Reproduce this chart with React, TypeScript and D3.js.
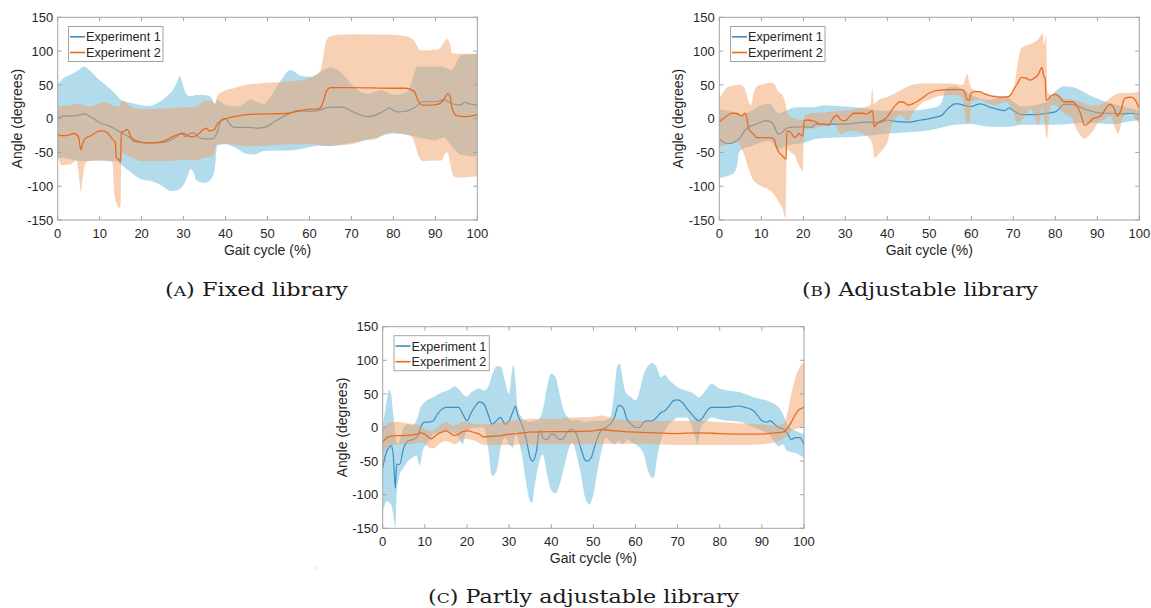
import React from "react";
import * as d3 from "d3";

type Pt = [number, number];

// ---------- tick labels & text ----------
const xTickValues = [0, 10, 20, 30, 40, 50, 60, 70, 80, 90, 100];
const yTickValues = [-150, -100, -50, 0, 50, 100, 150];
const seriesNames = ["Experiment 1", "Experiment 2"];
const captionLetters = ["A", "B", "C"];
const captionTexts = ["Fixed library", "Adjustable library", "Partly adjustable library"];
const xTitle = "Gait cycle (%)";
const yTitle = "Angle (degrees)";

// ---------- Panel A: Fixed library ----------
const aBlueMean: Pt[] = [[0,1],[2,4],[4,4],[5,5],[6.3,7],[8,2],[10,-6],[12,-10],[15,-20],[17,-27],[20,-35],[23,-36],[26,-34],[28,-28],[29.5,-21],[30.5,-27],[31.5,-22],[32.5,-21],[33.5,-27],[35,-30],[37,-30],[38,-20],[39,-2],[40,0],[41,-8],[42,-13],[45,-13],[48,-14],[50,-11],[52,-3],[55,7],[57,12],[60,11],[62,12],[65,17],[68,17],[70,11],[72,6],[74,3],[76,6],[78,12],[79,16],[80,12],[81,10],[83,11],[85,16],[87,25],[90,25],[92,28],[94,22],[96,20],[97,24],[98,22],[100,20]];
const aBlueUp: Pt[] = [[0,50],[1,58],[3,65],[5,72],[6.3,77],[7.5,72],[10,57],[12,47],[14,35],[15,28],[17,24],[20,20],[22,19],[24,24],[26,33],[27.5,43],[28.5,55],[29,63],[29.6,55],[30.5,38],[31.5,33],[33,35],[35,35],[36.5,32],[37.5,22],[38,28],[40,20],[43,18],[46,28],[49,22],[51,35],[53,55],[55.5,72],[57.8,64],[60.2,62],[62.6,69],[65,76],[67.4,69],[70.6,47],[73.8,37],[77,42],[80.2,35],[83.4,40],[85.8,77],[88.2,77],[91.4,77],[93.8,72],[96.2,94],[100,96]];
const aBlueLo: Pt[] = [[0,-58],[3,-60],[6,-63],[10,-62],[14,-63],[15.5,-70],[17,-77],[20,-90],[22,-92],[25,-100],[27,-107],[28.5,-106],[30,-98],[31,-85],[31.6,-75],[32.4,-80],[33,-91],[35,-95],[36.5,-90],[37.5,-72],[38,-40],[40,-38],[42,-42],[45,-52],[47,-53],[49,-48],[52,-47],[55,-47],[58,-45],[60,-42],[62,-40],[65,-41],[68,-38],[72,-34],[76,-28],[80,-22],[84,-25],[86,-28],[88,-30],[90,-32],[92,-28],[94,-42],[96,-53],[100,-56]];
const aOrMean: Pt[] = [[0,-22],[0.5,-25],[2,-25],[4,-22],[5,-28],[5.5,-46],[6,-36],[6.5,-30],[8,-25],[10,-18],[11,-18],[12,-22],[13,-30],[13.7,-35],[14,-58],[14.5,-60],[15,-64],[15.15,-20],[16,-18],[16.5,-16],[17,-20],[17.5,-28],[18,-33],[20,-35],[22,-36],[25,-34],[28,-25],[30,-22],[31,-25],[32,-27],[33,-25],[35,-15],[35.5,-14],[36,-18],[37,-17],[37.5,-15],[38,-8],[39,-3],[40,0],[42,3],[45,6],[50,7],[55,8],[58,12],[60,14],[62,14],[63,20],[64,40],[65,46],[70,46],[80,45],[83,45],[85,40],[86,25],[87,20],[89,20],[90.5,21],[92,28],[93,37],[93.5,33],[94,15],[95,5],[97,3],[100,6]];
const aOrUp: Pt[] = [[0,19],[3,20],[5,22],[7,18],[9,20],[11,25],[13,20],[14.9,18],[15.1,26],[16,25],[17,20],[18,16],[20,14],[25,15],[30,17],[33,18],[35,26],[36.5,27],[37.5,22],[38,33],[40,42],[42,45],[45,50],[50,53],[55,55],[58,57],[60,60],[62,66],[63,80],[63.5,100],[64,115],[65,122],[67,124],[70,125],[80,124],[83,122],[85,115],[86,104],[87,101],[90,102],[91,104],[92,112],[92.8,118],[93.5,110],[94,97],[95,96],[100,96]];
const aOrLo: Pt[] = [[0,-56],[1,-69],[3,-68],[4.5,-62],[5,-80],[5.5,-108],[6,-85],[6.5,-68],[7,-63],[10,-62],[13,-64],[13.5,-110],[14,-125],[14.5,-132],[15,-130],[15.2,-50],[17,-56],[20,-63],[25,-63],[28,-62],[30,-60],[32,-62],[35,-58],[37,-55],[38,-37],[40,-37],[45,-41],[50,-40],[55,-38],[60,-38],[65,-40],[70,-38],[73,-32],[76,-30],[78,-22],[80,-20],[82,-22],[84,-25],[85,-35],[86,-55],[87,-63],[90,-62],[91.5,-62],[92.3,-52],[93,-50],[93.5,-65],[94.2,-83],[95,-87],[97,-87],[100,-85]];

// ---------- Panel B: Adjustable library ----------
const bBlueMean: Pt[] = [[0,-30],[1,-35],[2,-37],[3,-36],[4,-33],[5,-28],[6,-18],[7,-12],[8,-10],[10,-5],[11,-3],[12,-4],[13,-10],[14,-23],[15,-20],[16,-14],[17,-13],[20,-12],[22,-13],[23,-8],[25,-8],[30,-8],[35,-5],[38,-6],[40,-2],[42,-4],[45,-5],[48,-2],[50,0],[52,3],[53,5],[54,12],[55,18],[56,22],[57,22],[58,20],[60,18],[61,20],[62,22],[63,21],[64,18],[65,16],[66,14],[68,12],[69,16],[70,12],[71,8],[72,6],[75,6],[78,8],[80,10],[81,15],[82,21],[84,21],[86,17],[88,12],[90,9],[92,8],[94,8],[96,7],[98,8],[100,6]];
const bBlueUp: Pt[] = [[0,13],[3,10],[5,5],[7,10],[10,20],[12,22],[14,8],[16,12],[18,17],[22,17],[25,20],[30,18],[35,15],[38,12],[40,12],[45,12],[50,15],[52,18],[53,25],[54,45],[56,48],[58,43],[60,35],[62,30],[64,28],[66,30],[68,33],[70,25],[72,18],[75,20],[78,25],[80,40],[82,48],[84,47],[86,42],[88,35],[90,30],[92,25],[95,20],[98,15],[100,12]];
const bBlueLo: Pt[] = [[0,-88],[2,-85],[3.5,-80],[4.2,-70],[4.7,-50],[5.5,-45],[8,-40],[10,-35],[12,-33],[14,-45],[16,-40],[18,-38],[20,-36],[23,-30],[28,-28],[32,-27],[36,-25],[40,-22],[45,-20],[50,-17],[53,-13],[56,-9],[60,-8],[64,-12],[66,-12],[69,-12],[72,-9],[80,-9],[88,-6],[94,-8],[97,-5],[100,-2]];
const bOrMean: Pt[] = [[0,-5],[1,0],[2,5],[3,8],[4,8],[5,5],[5.5,4],[6,8],[6.5,3],[7,-15],[8,-22],[9,-28],[10,-28],[12,-28],[13,-30],[13.5,-40],[14,-48],[15,-55],[15.9,-60],[16.1,-18],[17,-20],[17.5,-25],[18,-28],[19,-22],[19.9,-26],[20.2,-3],[21,-2],[22,-3],[23,-5],[24,-8],[25,-8],[26,-10],[27,0],[28,5],[29,-2],[30,-3],[31,3],[32,8],[33,8],[34,8],[35,7],[36,10],[36.5,12],[36.9,-12],[37.5,-8],[38,-5],[39,-2],[40,3],[41,12],[42,20],[43,25],[44,24],[45,20],[46,22],[47,25],[48,29],[50,38],[52,42],[55,43],[58,43],[58.5,38],[59,28],[59.5,27],[60,38],[61,40],[62,40],[63,37],[64,35],[65,33],[67,32],[68,32],[69,33],[70,42],[71,52],[72,61],[73,60],[74,57],[75,60],[76,66],[76.8,76],[77.3,62],[77.6,60],[77.8,27],[78.5,30],[79,34],[80,36],[81,32],[82,25],[84,25],[85,20],[86,8],[87,-10],[88,-6],[89,0],[90,2],[91,5],[92,15],[93,21],[94,15],[94.7,4],[95.5,10],[96.5,30],[98,32],[99,28],[100,15]];
const bOrUp: Pt[] = [[0,30],[1,40],[2,47],[5,50],[6,45],[7,25],[7.5,20],[8.2,38],[9,48],[10,50],[12,53],[13,52],[14,40],[15,35],[15.5,28],[16.5,5],[18,0],[20,-2],[20.3,5],[22,8],[26,10],[30,12],[33,15],[36,20],[36.4,45],[36.8,22],[38,28],[40,32],[42,38],[46,50],[48,52],[55,52],[58,50],[58.5,58],[59,66],[59.5,55],[60,45],[62,40],[65,35],[68,33],[70,40],[71,80],[72,105],[74,110],[76,118],[77,126],[77.4,110],[77.8,125],[78.1,40],[79,35],[80,38],[82,30],[84,28],[86,25],[88,20],[90,20],[92,25],[94,35],[96,38],[98,38],[100,40]];
const bOrLo: Pt[] = [[0,-42],[2,-38],[4,-35],[5,-40],[6,-55],[7,-75],[8,-90],[9,-96],[10,-100],[12,-106],[13,-112],[14,-122],[15,-132],[15.8,-147],[16.1,-45],[17,-50],[18,-55],[19,-70],[19.9,-78],[20.2,-15],[22,-15],[24,-12],[26,-10],[27,-5],[28,-15],[29,-23],[30,-20],[32,-18],[34,-22],[36,-31],[36.5,-40],[37,-58],[38,-52],[39,-45],[40,-35],[41,-10],[42,0],[43,5],[44,0],[45,-3],[46,8],[47,15],[48,22],[50,28],[54,35],[56,35],[58,30],[58.5,5],[59,-7],[59.6,-5],[60,25],[62,28],[64,22],[66,20],[68,25],[70,10],[71,-7],[72,-2],[73,5],[74,15],[75,5],[76,-10],[77,15],[77.5,-10],[78,-30],[78.5,0],[79,20],[80,20],[81,15],[82,8],[83,5],[84,0],[85,-15],[86,-25],[87,-30],[88,-25],[89,-18],[90,-8],[92,0],[93,5],[94,-10],[95,-22],[96,0],[98,10],[99,0],[100,-8]];

// ---------- Panel C: Partly adjustable library ----------
const cBlueMean: Pt[] = [[0,-60],[0.5,-45],[1,-35],[1.5,-30],[2,-27],[2.5,-40],[3,-90],[3.3,-55],[4,-55],[5,-30],[6,-20],[7,-18],[8,-15],[8.5,-10],[9,0],[10,8],[11,8],[12,10],[13,20],[14,27],[15,30],[17,30],[18,30],[19,20],[20,10],[21,22],[22,32],[23,38],[24,35],[25,20],[26,5],[27,10],[28,15],[29,5],[30,10],[31,25],[31.5,32],[32,20],[33,5],[34,-15],[35,-45],[35.5,-50],[36.5,-35],[37,-10],[37.5,-5],[38,-15],[39,-18],[40,-10],[41,-12],[42,-18],[43,-15],[44,-5],[45,-3],[46,-10],[47,-30],[48,-48],[48.5,-50],[49.5,-45],[50,-35],[51,-15],[52,-3],[53,0],[54,5],[55,15],[56,33],[57,30],[58,12],[59,5],[60,0],[61,0],[62,8],[63,10],[64,10],[65,15],[66,22],[67,25],[68,32],[69,40],[70,41],[71,38],[72,30],[73,22],[74,15],[75,10],[76,15],[77,25],[78,30],[80,30],[82,30],[84,32],[86,30],[88,25],[89,18],[90,10],[91,8],[92,10],[93,5],[94,0],[95,-2],[96,-8],[97,-18],[98,-15],[99,-15],[100,-25]];
const cBlueUp: Pt[] = [[0,0],[0.7,30],[1.5,56],[2,50],[2.5,20],[3,-10],[3.5,-25],[4,-20],[5,0],[6,5],[7,3],[8,10],[9,30],[10,38],[12,45],[14,52],[16,57],[17,61],[18,58],[19,50],[20,46],[21,52],[22,56],[23,58],[24,55],[25,60],[26,78],[27,91],[28,91],[29,70],[30,50],[30.5,75],[31,93],[31.5,70],[32,30],[33,15],[34,10],[35,8],[36,10],[37,12],[38,26],[39,60],[40,80],[41,75],[42,50],[43,25],[44,15],[45,10],[46,12],[48,8],[50,10],[52,10],[54,15],[55,55],[55.7,92],[56.3,95],[57,70],[57.5,55],[58,50],[59,45],[60,40],[61,55],[62,80],[63,92],[64,96],[65,90],[66,75],[67,78],[68,70],[69,65],[70,60],[72,55],[74,50],[75,45],[76,50],[77,58],[78,65],[79,62],[80,58],[82,55],[85,52],[88,45],[90,42],[92,38],[94,30],[95,20],[96,5],[98,-5],[100,-10]];
const cBlueLo: Pt[] = [[0,-125],[1,-110],[2,-115],[2.5,-130],[3,-150],[3.3,-100],[4,-70],[5,-60],[6,-50],[7,-45],[8,-42],[8.8,-56],[9.5,-35],[10,-28],[11,-20],[12,-10],[13,-8],[15,-5],[17,-8],[18,-15],[19,-25],[19.6,-10],[20,-5],[22,0],[24,0],[25,-30],[26,-72],[27,-65],[28,-30],[29,-15],[30,-25],[31,-30],[31.5,-5],[32,-15],[33,-40],[34,-80],[35,-110],[35.5,-112],[36,-90],[37,-55],[38,-40],[39,-70],[40,-93],[41,-98],[42,-85],[43,-60],[44,-35],[45,-22],[46,-40],[47,-68],[48,-103],[49,-114],[50,-100],[51,-63],[52,-33],[53,-15],[54,-20],[55,-25],[56,-20],[57,-25],[58,-18],[59,-22],[60,-25],[61,-30],[62,-40],[63,-65],[64,-75],[64.5,-72],[65,-50],[66,-20],[67,-5],[68,5],[69,10],[70,15],[72,15],[73,8],[74,-10],[74.8,-25],[75.5,0],[77,10],[78,15],[80,12],[82,10],[85,8],[88,0],[90,-5],[92,-12],[93,-22],[94,-28],[95,-25],[96,-35],[98,-38],[100,-45]];
const cOrMean: Pt[] = [[0,-22],[1,-15],[2,-13],[3,-12],[5,-12],[7,-11],[8,-10],[9,-8],[10,-10],[11,-15],[11.5,-17],[12,-15],[13,-10],[14,-7],[15,-5],[16,-8],[17,-12],[18,-10],[19,-6],[20,-5],[22,-8],[23,-10],[24,-14],[26,-13],[28,-12],[30,-10],[32,-9],[35,-7],[40,-6],[45,-6],[50,-5],[52,-3],[55,-5],[60,-7],[65,-8],[70,-9],[75,-8],[80,-9],[85,-10],[90,-10],[93,-8],[95,-7],[96,-2],[97,8],[98,20],[99,27],[100,30]];
const cOrUp: Pt[] = [[0,0],[1,5],[2,8],[4,8],[6,6],[8,5],[9,2],[10,-2],[11,-5],[12,-5],[13,0],[14,5],[15,8],[16,5],[17,3],[18,5],[19,8],[20,8],[22,5],[24,5],[25,5],[28,8],[30,10],[33,12],[36,13],[40,13],[45,15],[50,16],[52,18],[54,15],[56,12],[60,10],[65,10],[70,10],[75,10],[80,8],[85,6],[90,5],[93,3],[95,5],[96,20],[97,50],[98,75],[99,90],[100,97]];
const cOrLo: Pt[] = [[0,-40],[1,-30],[2,-26],[4,-25],[6,-25],[8,-23],[9,-22],[10,-25],[11,-30],[12,-31],[13,-27],[14,-22],[15,-20],[16,-22],[17,-25],[18,-22],[19,-17],[20,-17],[22,-20],[24,-26],[26,-26],[30,-26],[35,-25],[40,-25],[45,-25],[50,-24],[55,-24],[60,-24],[65,-25],[70,-26],[75,-26],[80,-26],[85,-26],[90,-25],[93,-22],[95,-17],[96,-12],[97,-6],[98,-2],[99,-1],[100,0]];

// ---------- styling ----------
const BLUE_LINE = "#3a8fc4";
const ORANGE_LINE = "#ea6a21";
const BLUE_FILL = "rgb(178,220,236)";
const ORANGE_FILL = "rgb(240,157,99)";
const ORANGE_OPACITY = 0.48;
const AXIS = "#a3a3a3";
const TEXT = "#262626";
const SANS = "'Liberation Sans', Arial, Helvetica, sans-serif";
const SERIF = "'DejaVu Serif', 'Liberation Serif', serif";

interface Series { mean: Pt[]; up: Pt[]; lo: Pt[]; }
interface PanelCfg {
  left: number; right: number; top: number; bottom: number;
  yTitleX: number;
  legend: { x: number; y: number; w: number; h: number };
  caption: { x1: number; x2: number; y: number };
  blue: Series; orange: Series;
}

const panels: PanelCfg[] = [
  {
    left: 57.7, right: 477.3, top: 17.3, bottom: 220, yTitleX: 21.5,
    legend: { x: 68.5, y: 26.5, w: 94.5, h: 35 },
    caption: { x1: 165, x2: 348, y: 296 },
    blue: { mean: aBlueMean, up: aBlueUp, lo: aBlueLo },
    orange: { mean: aOrMean, up: aOrUp, lo: aOrLo },
  },
  {
    left: 719.3, right: 1139.3, top: 17.3, bottom: 220, yTitleX: 682.5,
    legend: { x: 730.5, y: 26.5, w: 94.5, h: 35 },
    caption: { x1: 802, x2: 1038, y: 296 },
    blue: { mean: bBlueMean, up: bBlueUp, lo: bBlueLo },
    orange: { mean: bOrMean, up: bOrUp, lo: bOrLo },
  },
  {
    left: 382.7, right: 804, top: 326.7, bottom: 528.3, yTitleX: 346.5,
    legend: { x: 394, y: 335.7, w: 95.3, h: 35 },
    caption: { x1: 428, x2: 739, y: 603 },
    blue: { mean: cBlueMean, up: cBlueUp, lo: cBlueLo },
    orange: { mean: cOrMean, up: cOrUp, lo: cOrLo },
  },
];

function Panel({ cfg, idx }: { cfg: PanelCfg; idx: number }) {
  const x = d3.scaleLinear().domain([0, 100]).range([cfg.left, cfg.right]);
  const y = d3.scaleLinear().domain([-150, 150]).range([cfg.bottom, cfg.top]);
  const line = d3.line<Pt>().x((d) => x(d[0])).y((d) => y(d[1])).curve(d3.curveMonotoneX);
  const band = (up: Pt[], lo: Pt[]) => {
    const a = line(up) || "";
    const b = line(lo.slice().reverse()) || "";
    return a + "L" + b.slice(1) + "Z";
  };
  const clipId = `clip-${idx}`;
  const tl = 4;
  const { legend, caption } = cfg;
  const row1 = legend.y + 10.3;
  const row2 = legend.y + 26;
  return (
    <g>
      <defs>
        <clipPath id={clipId}>
          <rect x={cfg.left} y={cfg.top} width={cfg.right - cfg.left} height={cfg.bottom - cfg.top} />
        </clipPath>
      </defs>
      <rect x={cfg.left} y={cfg.top} width={cfg.right - cfg.left} height={cfg.bottom - cfg.top} fill="#fff" />
      <g clipPath={`url(#${clipId})`}>
        <path d={band(cfg.blue.up, cfg.blue.lo)} fill={BLUE_FILL} stroke="none" />
        <path d={line(cfg.blue.mean) || ""} fill="none" stroke={BLUE_LINE} strokeWidth={1.2} />
        <path d={band(cfg.orange.up, cfg.orange.lo)} fill={ORANGE_FILL} fillOpacity={ORANGE_OPACITY} stroke="none" />
        <path d={line(cfg.orange.mean) || ""} fill="none" stroke={ORANGE_LINE} strokeWidth={1.3} />
      </g>
      {/* box and ticks */}
      <rect x={cfg.left} y={cfg.top} width={cfg.right - cfg.left} height={cfg.bottom - cfg.top} fill="none" stroke={AXIS} strokeWidth={1} />
      {xTickValues.map((t) => (
        <g key={"x" + t}>
          <line x1={x(t)} x2={x(t)} y1={cfg.bottom} y2={cfg.bottom - tl} stroke={AXIS} />
          <line x1={x(t)} x2={x(t)} y1={cfg.top} y2={cfg.top + tl} stroke={AXIS} />
          <text x={x(t)} y={cfg.bottom + 18} textAnchor="middle" fontFamily={SANS} fontSize={13} fill={TEXT}>{t}</text>
        </g>
      ))}
      {yTickValues.map((t) => (
        <g key={"y" + t}>
          <line x1={cfg.left} x2={cfg.left + tl} y1={y(t)} y2={y(t)} stroke={AXIS} />
          <line x1={cfg.right} x2={cfg.right - tl} y1={y(t)} y2={y(t)} stroke={AXIS} />
          <text x={cfg.left - 4.5} y={y(t) + 4.7} textAnchor="end" fontFamily={SANS} fontSize={13} fill={TEXT}>{t}</text>
        </g>
      ))}
      <text x={(cfg.left + cfg.right) / 2} y={cfg.bottom + 35} textAnchor="middle" fontFamily={SANS} fontSize={14} fill={TEXT}>{xTitle}</text>
      <text transform={`translate(${cfg.yTitleX},${(cfg.top + cfg.bottom) / 2}) rotate(-90)`} textAnchor="middle" fontFamily={SANS} fontSize={14} fill={TEXT}>{yTitle}</text>
      {/* legend */}
      <rect x={legend.x} y={legend.y} width={legend.w} height={legend.h} fill="#fff" stroke={AXIS} strokeWidth={1} />
      <line x1={legend.x + 1.5} x2={legend.x + 16.5} y1={row1} y2={row1} stroke={BLUE_LINE} strokeWidth={1.6} />
      <line x1={legend.x + 1.5} x2={legend.x + 16.5} y1={row2} y2={row2} stroke={ORANGE_LINE} strokeWidth={1.6} />
      <text x={legend.x + 17.5} y={row1 + 4.5} fontFamily={SANS} fontSize={12.7} fill={TEXT}>{seriesNames[0]}</text>
      <text x={legend.x + 17.5} y={row2 + 4.5} fontFamily={SANS} fontSize={12.7} fill={TEXT}>{seriesNames[1]}</text>
      {/* caption */}
      <text x={caption.x1} y={caption.y} fontFamily={SERIF} fontSize={18} fill="#1a1a1a" textLength={caption.x2 - caption.x1} lengthAdjust="spacingAndGlyphs">
        (<tspan fontSize={13.8}>{captionLetters[idx]}</tspan>) {captionTexts[idx]}
      </text>
    </g>
  );
}

export default function App() {
  return (
    <svg width={1151} height={608} viewBox="0 0 1151 608" style={{ position: "absolute", left: 0, top: 0, background: "#fff" }}>
      <rect x={0} y={0} width={1151} height={608} fill="#fff" />
      {panels.map((p, i) => (
        <Panel key={i} cfg={p} idx={i} />
      ))}
      <circle cx={315} cy={568} r={0.7} fill="#bbb" />
    </svg>
  );
}
